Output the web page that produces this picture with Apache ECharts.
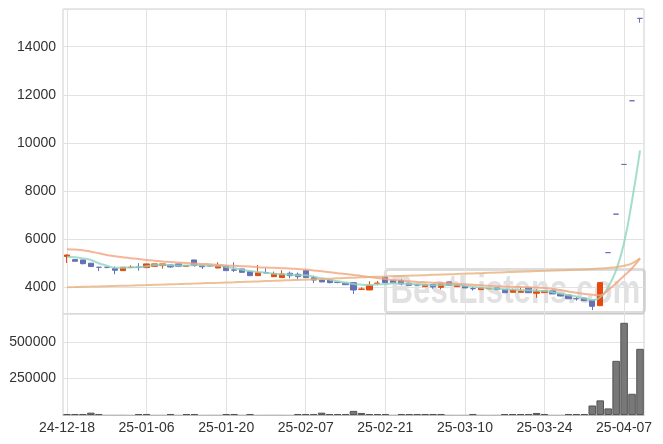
<!DOCTYPE html>
<html><head><meta charset="utf-8">
<script src="https://cdn.jsdelivr.net/npm/echarts@6/dist/echarts.min.js"></script>
<style>html,body{margin:0;padding:0;background:#fff}#c{width:663px;height:444px}</style>
</head><body><div id="c"></div>
<script>
const dates = ['24-12-18','24-12-19','24-12-20','24-12-23','24-12-24','24-12-26','24-12-27','24-12-30',
'25-01-02','25-01-03','25-01-06','25-01-07','25-01-08','25-01-09','25-01-10','25-01-13','25-01-14','25-01-15','25-01-16','25-01-17','25-01-20','25-01-21','25-01-22','25-01-23','25-01-24','25-01-31',
'25-02-03','25-02-04','25-02-05','25-02-06','25-02-07','25-02-10','25-02-11','25-02-12','25-02-13','25-02-14','25-02-17','25-02-18','25-02-19','25-02-20','25-02-21','25-02-24','25-02-25','25-02-26','25-02-27','25-02-28',
'25-03-04','25-03-05','25-03-06','25-03-07','25-03-10','25-03-11','25-03-12','25-03-13','25-03-14','25-03-17','25-03-18','25-03-19','25-03-20','25-03-21','25-03-24','25-03-25','25-03-26','25-03-27','25-03-28','25-03-31',
'25-04-01','25-04-02','25-04-03','25-04-04','25-04-07','25-04-08','25-04-09'];

const openP = [5270,5140,5125,4990,4820,4820,4765,4680,4810,4820,
4805,4860,4890,4915,4960,4860,5125,4880,4880,4790,
4865,4710,4750,4640,4470,4590,4430,4390,4570,4530,
4680,4390,4290,4290,4190,4155,4180,3905,3875,4150,
4400,4265,4265,4155,4085,4015,4110,3985,4210,4015,
4030,3930,3890,3925,3960,3900,3780,3780,3960,3740,
3765,3835,3710,3665,3510,3540,3445,3220,5430,7030,
9100,11750,15180];
const closeP = [5330,5070,4970,4850,4820,4820,4695,4820,4820,4820,
4960,4960,4960,4835,4860,4885,4890,4840,4880,4890,
4680,4700,4610,4470,4595,4590,4555,4540,4470,4430,
4390,4290,4210,4180,4190,4095,3875,3915,4070,4160,
4180,4180,4125,4070,4085,4095,4000,4125,4070,4085,
3960,3930,3960,3935,3890,3760,3875,3820,3760,3800,
3835,3710,3625,3510,3510,3430,3195,4180,5430,7030,
9100,11750,15180];
const lowP = [5000,5070,4940,4840,4660,4780,4530,4680,4810,4680,
4800,4860,4765,4790,4825,4850,4850,4750,4860,4790,
4680,4625,4610,4470,4470,4590,4430,4390,4360,4320,
4390,4165,4210,4150,4150,4095,3710,3875,3875,4070,
4180,4180,4070,4070,4060,4015,3930,3900,4050,4015,
3960,3850,3890,3925,3870,3760,3780,3780,3760,3550,
3765,3710,3610,3500,3430,3430,3040,3220,5430,7030,
9100,11750,15000];
const highP = [5350,5170,5125,4990,4820,4830,4850,4820,4900,4990,
4960,4960,4960,4940,4960,4910,5125,4880,4910,5030,
4865,5030,4750,4640,4915,4780,4640,4695,4640,4600,
4680,4470,4290,4320,4220,4155,4180,3985,4235,4250,
4400,4265,4320,4155,4100,4095,4110,4125,4210,4085,
4030,3990,3960,3935,3960,3900,3930,3970,3960,3905,
3835,3835,3710,3665,3590,3540,3445,4180,5430,7030,
9100,11750,15180];
const volume = [7000,7000,7000,16000,7000,400,300,500,200,7000,
7000,300,400,7000,300,7000,7000,200,300,400,
7000,7000,300,7000,200,300,400,300,200,7000,
7000,7000,16000,7000,7000,7000,28000,14000,7000,7000,
7000,400,7000,7000,7000,7000,7000,7000,300,200,
400,7000,300,200,300,7000,7000,7000,7000,14000,
7000,300,400,7000,7000,7000,65000,100000,45000,370000,
630000,145000,452000];
const ma5 = [5260,5235,5190,5125,4990,4890,4805,4800,4815,4820,
4860,4910,4920,4905,4890,4890,4920,4900,4880,4880,
4835,4780,4720,4665,4625,4595,4555,4530,4515,4485,
4485,4430,4360,4305,4235,4185,4125,4095,4085,4110,
4125,4150,4140,4125,4110,4085,4070,4080,4090,4080,
4055,4015,3970,3945,3930,3900,3890,3875,3860,3850,
3835,3780,3725,3655,3600,3515,3460,3570,4000,4700,
5850,7600,9690];
const ma20 = [5570,5555,5530,5470,5400,5330,5280,5235,5195,5165,
5125,5095,5060,5040,5015,4995,4980,4960,4945,4925,
4895,4880,4865,4850,4825,4810,4795,4780,4765,4745,
4725,4685,4655,4610,4575,4540,4500,4460,4415,4375,
4330,4290,4265,4235,4210,4195,4180,4165,4150,4130,
4110,4090,4070,4050,4035,4020,4005,3995,3985,3975,
3960,3920,3870,3810,3760,3710,3680,3660,3880,4160,
4470,4780,5190];
const ma60 = [3990,3998,4007,4015,4024,4030,4041,4050,4058,4068,
4078,4090,4100,4112,4122,4135,4143,4155,4165,4174,
4185,4196,4210,4222,4232,4245,4256,4270,4280,4292,
4305,4318,4330,4345,4360,4375,4388,4400,4410,4422,
4435,4447,4458,4470,4482,4493,4505,4516,4528,4540,
4552,4563,4575,4587,4600,4612,4624,4636,4648,4660,
4672,4684,4695,4707,4718,4730,4745,4765,4790,4825,
4880,4980,5190];

const RED = '#e8480c', BLUE = '#6670b6';
const FONT = '"Liberation Sans", Arial, sans-serif';

const candleData = dates.map((d, i) => {
  const item = { value: [openP[i], closeP[i], lowP[i], highP[i]] };
  if (openP[i] === closeP[i]) {
    item.itemStyle = { color: BLUE, color0: BLUE, borderColor: BLUE, borderColor0: BLUE, borderColorDoji: BLUE };
  }
  return item;
});
// bars thinner than a pixel are drawn without outline so they stay invisible, as in the source
const volumeData = volume.map(v => v < 1000 ? { value: v, itemStyle: { borderWidth: 0 } } : v);

const chart = echarts.init(document.getElementById('c'), null, { renderer: 'canvas' });
const splitCol = '#e2e2e2';
const plain = v => String(v);
chart.setOption({
  animation: false,
  backgroundColor: '#fff',
  grid: [
    { left: 63, right: 19, top: 9, height: 305, show: true, borderColor: '#cfcfcf', borderWidth: 1 },
    { left: 63, right: 19, top: 314, height: 101, show: true, borderColor: '#cfcfcf', borderWidth: 1 }
  ],
  xAxis: [
    { type: 'category', gridIndex: 0, data: dates, boundaryGap: true,
      axisLabel: { show: false }, axisTick: { show: false }, axisLine: { show: false },
      splitLine: { show: true, interval: 9, alignWithLabel: true, lineStyle: { color: splitCol } } },
    { type: 'category', gridIndex: 1, data: dates, boundaryGap: true,
      axisLabel: { interval: 9, fontFamily: FONT, fontSize: 14, color: '#333', margin: 6 },
      axisTick: { show: false }, axisLine: { lineStyle: { color: '#bbb' } },
      splitLine: { show: true, interval: 9, alignWithLabel: true, lineStyle: { color: splitCol } } }
  ],
  yAxis: [
    { type: 'value', gridIndex: 0, min: 2875, max: 15570, minInterval: 2000, maxInterval: 2000,
      axisLabel: { fontFamily: FONT, fontSize: 14, color: '#333', margin: 7, formatter: plain, showMinLabel: false, showMaxLabel: false },
      axisLine: { show: false }, axisTick: { show: false }, splitLine: { lineStyle: { color: splitCol } } },
    { type: 'value', gridIndex: 1, min: 0, max: 690000, minInterval: 250000, maxInterval: 250000,
      axisLabel: { fontFamily: FONT, fontSize: 14, color: '#333', margin: 7, formatter: plain, showMinLabel: false, showMaxLabel: false },
      axisLine: { show: false }, axisTick: { show: false }, splitLine: { lineStyle: { color: splitCol } } }
  ],
  graphic: [{
    type: 'group', left: 383, top: 267, z: 1,
    children: [
      { type: 'rect', shape: { x: 0, y: 0, width: 259, height: 43, r: 3 },
        style: { fill: 'none', stroke: 'rgba(180,180,180,0.45)', lineWidth: 3 } },
      { type: 'text', x: 5, y: 2, scaleX: 0.78,
        style: { text: 'BestListens.com', font: 'bold 40px "Liberation Sans", Arial, sans-serif', fill: 'rgba(180,180,180,0.4)' } }
    ]
  }],
  series: [
    { type: 'candlestick', xAxisIndex: 0, yAxisIndex: 0, data: candleData, barWidth: '72%',
      itemStyle: { color: RED, color0: BLUE, borderColor: RED, borderColor0: BLUE, borderWidth: 1 } },
    { type: 'line', xAxisIndex: 0, yAxisIndex: 0, data: ma5, smooth: true, showSymbol: false,
      lineStyle: { color: '#8dd5bd', width: 2, opacity: 0.8 } },
    { type: 'line', xAxisIndex: 0, yAxisIndex: 0, data: ma20, smooth: true, showSymbol: false,
      lineStyle: { color: '#f2a27f', width: 2, opacity: 0.8 } },
    { type: 'line', xAxisIndex: 0, yAxisIndex: 0, data: ma60, smooth: true, showSymbol: false,
      lineStyle: { color: '#e9b07c', width: 2, opacity: 0.8 } },
    { type: 'bar', xAxisIndex: 1, yAxisIndex: 1, data: volumeData, barCategoryGap: '5%',
      itemStyle: { color: '#787878', borderColor: '#555', borderWidth: 1 } }
  ]
});
</script></body></html>
